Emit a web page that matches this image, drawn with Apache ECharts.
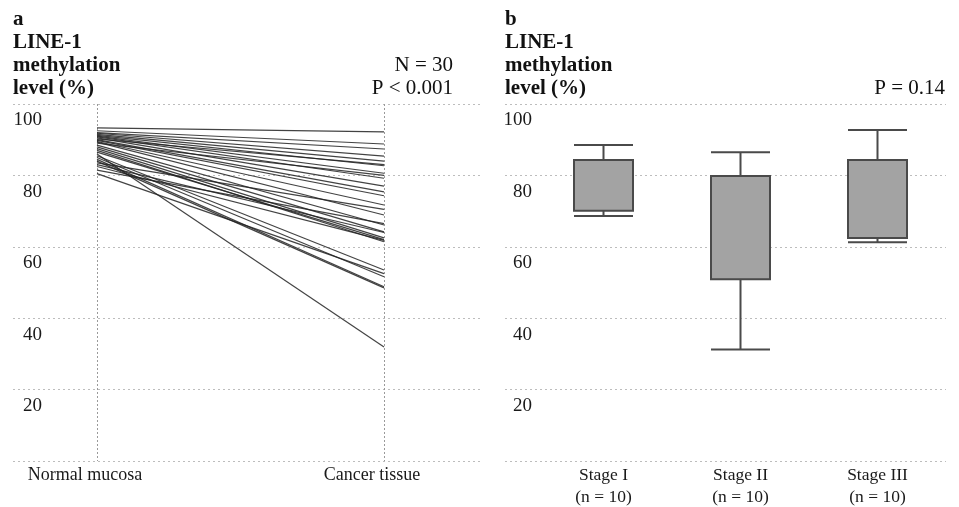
<!DOCTYPE html>
<html>
<head>
<meta charset="utf-8">
<script src="https://cdn.jsdelivr.net/npm/echarts@6/dist/echarts.min.js"></script>
<style>html,body{margin:0;padding:0;background:#fff;}#c{width:959px;height:507px;}</style>
</head>
<body>
<div id="c"></div>
<script>
// ---- data ----
const pairCategories = ['Normal mucosa', 'Cancer tissue'];
const normalMucosa = [93.3, 92.5, 92.0, 91.8, 91.5, 91.2, 91.0, 90.8, 90.5, 90.2,
                      90.0, 89.8, 89.5, 89.3, 89.0, 88.5, 88.0, 87.5, 87.0, 86.5,
                      86.0, 85.5, 85.0, 84.5, 84.0, 83.5, 83.0, 82.5, 81.5, 80.5];
const cancerTissue = [92.2, 88.8, 87.4, 85.4, 84.0, 82.7, 80.6, 79.2, 77.0, 83.0,
                      75.4, 74.3, 71.7, 68.9, 80.0, 66.1, 64.2, 62.5, 61.4, 62.0,
                      31.9, 53.5, 51.6, 48.8, 48.5, 70.5, 64.0, 61.8, 66.5, 52.5];
const stageNames = ['Stage I', 'Stage II', 'Stage III'];
const stageN = [10, 10, 10];
const stageMin = [68.6, 31.2, 61.3];
const stageQ1 = [70.1, 50.9, 62.5];
const stageQ3 = [84.3, 79.8, 84.3];
const stageMax = [88.5, 86.5, 92.7];
const yTicks = [0, 20, 40, 60, 80, 100];

const serif = '"Liberation Serif", "DejaVu Serif", serif';
const chart = echarts.init(document.getElementById('c'));

const gridLineStyle = { color: '#bdbdbd', type: [2, 3], width: 1 };
function bgYAxis(gridIndex, margin) {
  return {
    gridIndex, type: 'value', min: yTicks[0], max: yTicks[yTicks.length - 1], interval: 20,
    axisLine: { show: false }, axisTick: { show: false },
    splitLine: { show: true, lineStyle: gridLineStyle },
    axisLabel: {
      inside: true, margin: margin, align: 'right', verticalAlign: 'top',
      padding: [7, 0, 0, 0], fontFamily: serif, fontSize: 19, color: '#1a1a1a',
      formatter: v => (v === 0 ? '' : String(v))
    }
  };
}
function hiddenYAxis(gridIndex) {
  return { gridIndex, type: 'value', min: 0, max: 100, show: false, splitLine: { show: false } };
}

const lineSeries = normalMucosa.map((n, i) => ({
  type: 'line', xAxisIndex: 1, yAxisIndex: 1,
  data: [n, cancerTissue[i]],
  symbol: 'none', silent: true,
  lineStyle: { color: '#222', width: 1.2, opacity: 0.85 }
}));

const boxData = stageNames.map((s, i) => [stageMin[i], stageQ1[i], stageQ1[i], stageQ3[i], stageMax[i]]);

const gridBase = { top: 104, height: 357, outerBoundsMode: 'none', containLabel: false };

chart.setOption({
  animation: false,
  backgroundColor: '#fff',
  grid: [
    Object.assign({ left: 13, width: 467 }, gridBase),
    Object.assign({ left: 97, width: 287 }, gridBase),
    Object.assign({ left: 505, width: 441 }, gridBase),
    Object.assign({ left: 535, width: 411 }, gridBase)
  ],
  xAxis: [
    { gridIndex: 0, type: 'value', show: false, splitLine: { show: false } },
    {
      gridIndex: 1, type: 'category', data: pairCategories, boundaryGap: false,
      axisLine: { show: false }, axisTick: { show: false },
      splitLine: { show: true, lineStyle: { color: '#9a9a9a', type: [2, 2], width: 1 } },
      axisLabel: { margin: 5, fontFamily: serif, fontSize: 18, color: '#1a1a1a', padding: [0, 24, 0, 0] }
    },
    { gridIndex: 2, type: 'value', show: false, splitLine: { show: false } },
    {
      gridIndex: 3, type: 'category', data: stageNames.map((s, i) => s + '\n(n = ' + stageN[i] + ')'),
      boundaryGap: true,
      axisLine: { show: false }, axisTick: { show: false }, splitLine: { show: false },
      axisLabel: { margin: 3, fontFamily: serif, fontSize: 17.5, color: '#1a1a1a', lineHeight: 22 }
    }
  ],
  yAxis: [bgYAxis(0, 29), hiddenYAxis(1), bgYAxis(2, 27), hiddenYAxis(3)],
  series: lineSeries.concat([
    {
      type: 'boxplot', xAxisIndex: 3, yAxisIndex: 3, data: boxData,
      boxWidth: [59, 59], silent: true,
      itemStyle: { color: '#a3a3a3', borderColor: '#4a4a4a', borderWidth: 2 }
    }
  ]),
  graphic: [
    { type: 'text', x: 13, y: 8, style: { text: 'a\nLINE-1\nmethylation\nlevel (%)', font: 'bold 21px ' + serif, lineHeight: 23, fill: '#111', verticalAlign: 'top' } },
    { type: 'text', x: 453, y: 54, style: { text: 'N = 30\nP < 0.001', font: '21px ' + serif, lineHeight: 23, fill: '#111', align: 'right', verticalAlign: 'top' } },
    { type: 'text', x: 505, y: 8, style: { text: 'b\nLINE-1\nmethylation\nlevel (%)', font: 'bold 21px ' + serif, lineHeight: 23, fill: '#111', verticalAlign: 'top' } },
    { type: 'text', x: 945, y: 77, style: { text: 'P = 0.14', font: '21px ' + serif, lineHeight: 23, fill: '#111', align: 'right', verticalAlign: 'top' } }
  ]
});
</script>
</body>
</html>
